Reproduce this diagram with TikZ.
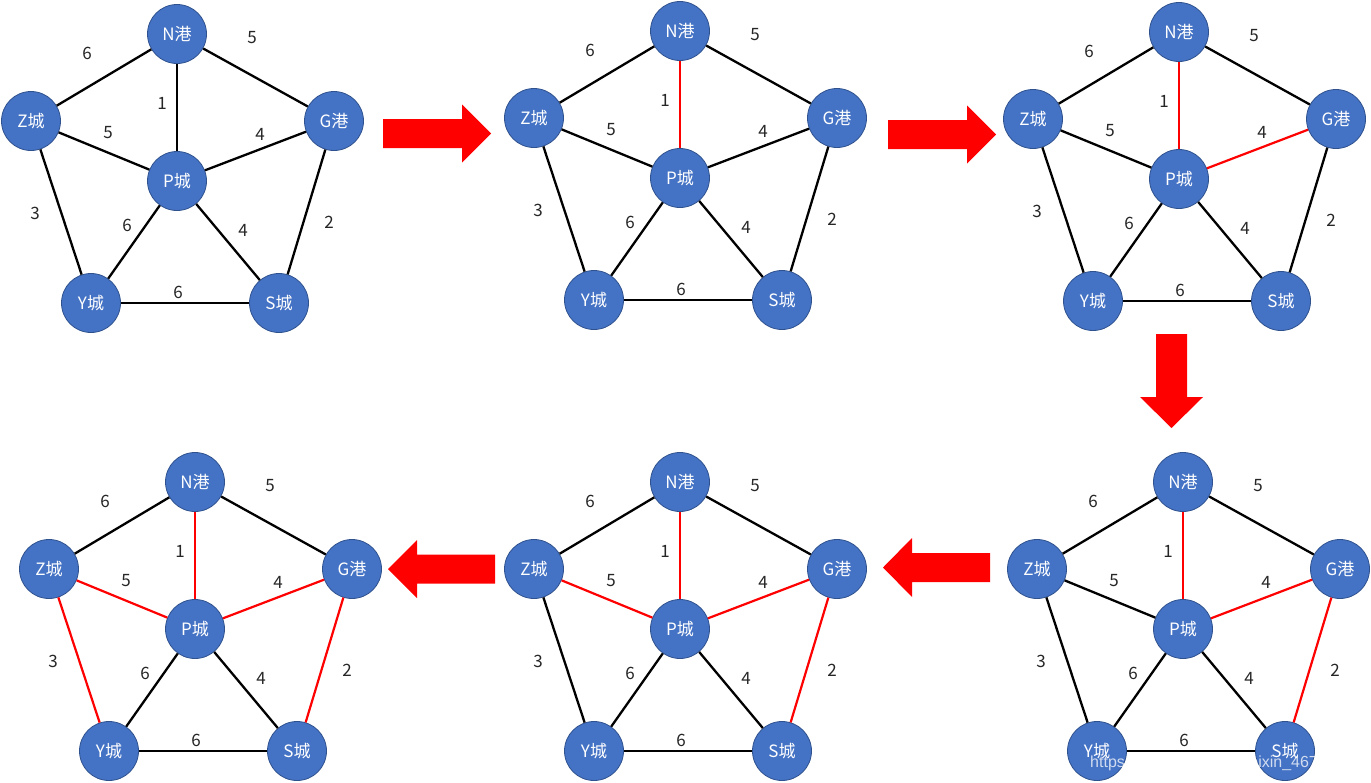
\documentclass[tikz,border=0pt]{standalone}
\usepackage{fontspec}
\setmainfont{Noto Sans CJK SC}
\newfontfamily\wmfont{Liberation Sans}
\definecolor{nodeblue}{HTML}{4472C4}
\definecolor{nodeedge}{HTML}{2F528F}
\definecolor{redline}{HTML}{FF0000}
\definecolor{lblcol}{HTML}{262626}
\tikzset{
  city/.style={circle, fill=nodeblue, draw=nodeedge, line width=0.8pt, minimum size=59pt, inner sep=0pt, text=white, font=\fontsize{17}{20}\selectfont},
  blk/.style={draw=black, line width=2.3pt},
  redE/.style={draw=redline, line width=2.2pt},
  lbl/.style={text=lblcol, inner sep=0pt, font=\fontsize{17}{20}\selectfont},
  blockarrow/.style={fill=redline, draw=none}
}
\newcommand\drawgraph[8]{%
  \node[city] (#1N) at ({#2},{#3-147}) {N港};
  \node[city] (#1Z) at ({#2-146},{#3-60}) {Z城};
  \node[city] (#1G) at ({#2+157},{#3-60}) {G港};
  \node[city] (#1P) at ({#2},{#3}) {P城};
  \node[city] (#1Y) at ({#2-86},{#3+122}) {Y城};
  \node[city] (#1S) at ({#2+102},{#3+122}) {S城};
  \draw[blk] (#1N) -- (#1Z);
  \draw[blk] (#1N) -- (#1G);
  \draw[#4] (#1N) -- (#1P);
  \draw[#7] (#1Z) -- (#1P);
  \draw[#5] (#1G) -- (#1P);
  \draw[#8] (#1Z) -- (#1Y);
  \draw[#6] (#1G) -- (#1S);
  \draw[blk] (#1P) -- (#1Y);
  \draw[blk] (#1P) -- (#1S);
  \draw[blk] (#1Y) -- (#1S);
  \node[lbl] (#1l1) at ({#2-90},{#3-128}) {6};
  \node[lbl] (#1l2) at ({#2+75},{#3-143}) {5};
  \node[lbl] (#1l3) at ({#2-15},{#3-78}) {1};
  \node[lbl] (#1l4) at ({#2-69},{#3-48}) {5};
  \node[lbl] (#1l5) at ({#2+83},{#3-47}) {4};
  \node[lbl] (#1l6) at ({#2-142},{#3+32}) {3};
  \node[lbl] (#1l7) at ({#2+152},{#3+41}) {2};
  \node[lbl] (#1l8) at ({#2-50},{#3+44}) {6};
  \node[lbl] (#1l9) at ({#2+66},{#3+49}) {4};
  \node[lbl] (#1l10) at ({#2+1},{#3+111}) {6};
}
\begin{document}
\begin{tikzpicture}[x=1pt,y=-1pt]
  \useasboundingbox[fill=white] (0,0) rectangle (1371,782);
  % graphs
  \drawgraph{a}{177}{181}{blk}{blk}{blk}{blk}{blk}
  \drawgraph{b}{680}{178}{redE}{blk}{blk}{blk}{blk}
  \drawgraph{c}{1179}{179}{redE}{redE}{blk}{blk}{blk}
  \drawgraph{d}{1183}{629}{redE}{redE}{redE}{blk}{blk}
  \drawgraph{e}{680}{629}{redE}{redE}{redE}{redE}{blk}
  \drawgraph{f}{195}{629}{redE}{redE}{redE}{redE}{redE}
  % block arrows
  \fill[blockarrow] (383,119) -- (462,119) -- (462,104.5) -- (491,133.5) -- (462,162.5) -- (462,148) -- (383,148) -- cycle;
  \fill[blockarrow] (888,120) -- (967,120) -- (967,105.5) -- (996,134.5) -- (967,163.5) -- (967,149) -- (888,149) -- cycle;
  \fill[blockarrow] (1156,334) -- (1187,334) -- (1187,397) -- (1203,397) -- (1171.5,428) -- (1140,397) -- (1156,397) -- cycle;
  \fill[blockarrow] (990,553) -- (912,553) -- (912,538) -- (883,567.5) -- (912,597) -- (912,582) -- (990,582) -- cycle;
  \fill[blockarrow] (495,554.5) -- (417,554.5) -- (417,540) -- (388,569) -- (417,598) -- (417,583.5) -- (495,583.5) -- cycle;
  % watermark
  \node[anchor=base west, inner sep=0pt, text=white, text opacity=0.75, font=\wmfont\fontsize{16}{18}\selectfont] (wm) at (1090,767) {https://blog.csdn.net/weixin\_467};
\end{tikzpicture}
\end{document}
